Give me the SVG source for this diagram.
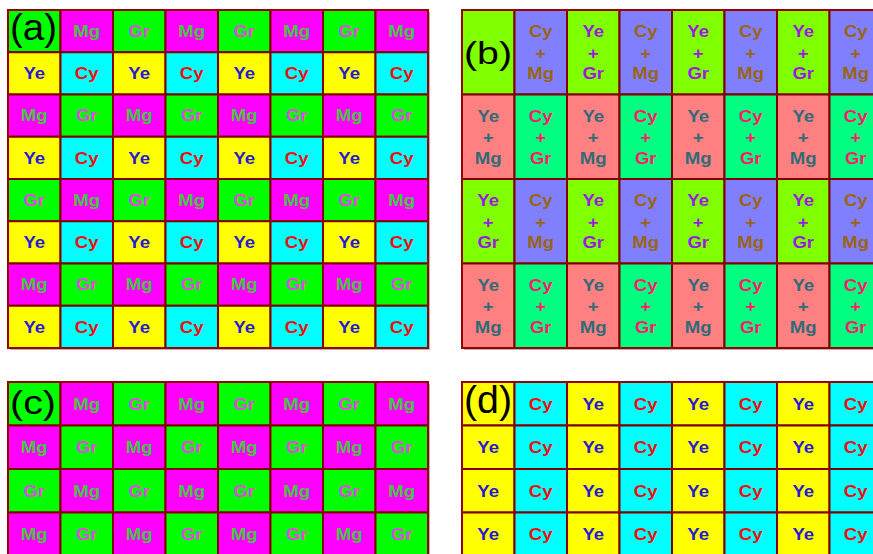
<svg xmlns="http://www.w3.org/2000/svg" width="873" height="554" viewBox="0 0 873 554">
<style>
.k rect{stroke:#800000;stroke-width:2}
.G{fill:#00ff00}.M{fill:#ff00ff}.Y{fill:#ffff00}.C{fill:#00ffff}
.YG{fill:#80ff00}.CM{fill:#8080ff}.YM{fill:#ff8080}.CG{fill:#00ff80}
.sh{fill:#b4b4b4}
.ob{fill:none;stroke:#990000;stroke-width:2}
text{font-family:"Liberation Sans",Arial,Helvetica,sans-serif;font-size:16px;font-weight:bold;text-anchor:middle;transform-box:fill-box;transform-origin:center;transform:scaleX(1.16)}
.tM{fill:#44c844}.tG{fill:#e646e6}.tY{fill:#2a1ad4}.tC{fill:#ee1010}
.tCM{fill:#9a6414}.tYG{fill:#9a1ae0}.tYM{fill:#2f6b78}.tCG{fill:#ff1a6e}
text.lab{font-weight:normal;text-anchor:start;fill:#000;transform:none}
</style>
<rect width="873" height="554" fill="#ffffff"/>

<g id="panel-a">
<rect class="sh" x="10" y="12" width="420" height="338"/>
<g class="k">
<rect class="G" x="8" y="10" width="52.5" height="42.25"/><rect class="M" x="60.5" y="10" width="52.5" height="42.25"/><rect class="G" x="113" y="10" width="52.5" height="42.25"/><rect class="M" x="165.5" y="10" width="52.5" height="42.25"/><rect class="G" x="218" y="10" width="52.5" height="42.25"/><rect class="M" x="270.5" y="10" width="52.5" height="42.25"/><rect class="G" x="323" y="10" width="52.5" height="42.25"/><rect class="M" x="375.5" y="10" width="52.5" height="42.25"/>
<rect class="Y" x="8" y="52.25" width="52.5" height="42.25"/><rect class="C" x="60.5" y="52.25" width="52.5" height="42.25"/><rect class="Y" x="113" y="52.25" width="52.5" height="42.25"/><rect class="C" x="165.5" y="52.25" width="52.5" height="42.25"/><rect class="Y" x="218" y="52.25" width="52.5" height="42.25"/><rect class="C" x="270.5" y="52.25" width="52.5" height="42.25"/><rect class="Y" x="323" y="52.25" width="52.5" height="42.25"/><rect class="C" x="375.5" y="52.25" width="52.5" height="42.25"/>
<rect class="M" x="8" y="94.5" width="52.5" height="42.25"/><rect class="G" x="60.5" y="94.5" width="52.5" height="42.25"/><rect class="M" x="113" y="94.5" width="52.5" height="42.25"/><rect class="G" x="165.5" y="94.5" width="52.5" height="42.25"/><rect class="M" x="218" y="94.5" width="52.5" height="42.25"/><rect class="G" x="270.5" y="94.5" width="52.5" height="42.25"/><rect class="M" x="323" y="94.5" width="52.5" height="42.25"/><rect class="G" x="375.5" y="94.5" width="52.5" height="42.25"/>
<rect class="Y" x="8" y="136.75" width="52.5" height="42.25"/><rect class="C" x="60.5" y="136.75" width="52.5" height="42.25"/><rect class="Y" x="113" y="136.75" width="52.5" height="42.25"/><rect class="C" x="165.5" y="136.75" width="52.5" height="42.25"/><rect class="Y" x="218" y="136.75" width="52.5" height="42.25"/><rect class="C" x="270.5" y="136.75" width="52.5" height="42.25"/><rect class="Y" x="323" y="136.75" width="52.5" height="42.25"/><rect class="C" x="375.5" y="136.75" width="52.5" height="42.25"/>
<rect class="G" x="8" y="179" width="52.5" height="42.25"/><rect class="M" x="60.5" y="179" width="52.5" height="42.25"/><rect class="G" x="113" y="179" width="52.5" height="42.25"/><rect class="M" x="165.5" y="179" width="52.5" height="42.25"/><rect class="G" x="218" y="179" width="52.5" height="42.25"/><rect class="M" x="270.5" y="179" width="52.5" height="42.25"/><rect class="G" x="323" y="179" width="52.5" height="42.25"/><rect class="M" x="375.5" y="179" width="52.5" height="42.25"/>
<rect class="Y" x="8" y="221.25" width="52.5" height="42.25"/><rect class="C" x="60.5" y="221.25" width="52.5" height="42.25"/><rect class="Y" x="113" y="221.25" width="52.5" height="42.25"/><rect class="C" x="165.5" y="221.25" width="52.5" height="42.25"/><rect class="Y" x="218" y="221.25" width="52.5" height="42.25"/><rect class="C" x="270.5" y="221.25" width="52.5" height="42.25"/><rect class="Y" x="323" y="221.25" width="52.5" height="42.25"/><rect class="C" x="375.5" y="221.25" width="52.5" height="42.25"/>
<rect class="M" x="8" y="263.5" width="52.5" height="42.25"/><rect class="G" x="60.5" y="263.5" width="52.5" height="42.25"/><rect class="M" x="113" y="263.5" width="52.5" height="42.25"/><rect class="G" x="165.5" y="263.5" width="52.5" height="42.25"/><rect class="M" x="218" y="263.5" width="52.5" height="42.25"/><rect class="G" x="270.5" y="263.5" width="52.5" height="42.25"/><rect class="M" x="323" y="263.5" width="52.5" height="42.25"/><rect class="G" x="375.5" y="263.5" width="52.5" height="42.25"/>
<rect class="Y" x="8" y="305.75" width="52.5" height="42.25"/><rect class="C" x="60.5" y="305.75" width="52.5" height="42.25"/><rect class="Y" x="113" y="305.75" width="52.5" height="42.25"/><rect class="C" x="165.5" y="305.75" width="52.5" height="42.25"/><rect class="Y" x="218" y="305.75" width="52.5" height="42.25"/><rect class="C" x="270.5" y="305.75" width="52.5" height="42.25"/><rect class="Y" x="323" y="305.75" width="52.5" height="42.25"/><rect class="C" x="375.5" y="305.75" width="52.5" height="42.25"/>
</g>
<rect class="ob" x="8" y="10" width="420" height="338"/>
<text class="lab" x="10" y="40" textLength="47" lengthAdjust="spacingAndGlyphs" style="font-size:37px">(a)</text>
<text class="tM" x="86.75" y="37">Mg</text><text class="tG" x="139.25" y="37">Gr</text><text class="tM" x="191.75" y="37">Mg</text><text class="tG" x="244.25" y="37">Gr</text><text class="tM" x="296.75" y="37">Mg</text><text class="tG" x="349.25" y="37">Gr</text><text class="tM" x="401.75" y="37">Mg</text>
<text class="tY" x="34.25" y="79.5">Ye</text><text class="tC" x="86.75" y="79.5">Cy</text><text class="tY" x="139.25" y="79.5">Ye</text><text class="tC" x="191.75" y="79.5">Cy</text><text class="tY" x="244.25" y="79.5">Ye</text><text class="tC" x="296.75" y="79.5">Cy</text><text class="tY" x="349.25" y="79.5">Ye</text><text class="tC" x="401.75" y="79.5">Cy</text>
<text class="tM" x="34.25" y="121.5">Mg</text><text class="tG" x="86.75" y="121.5">Gr</text><text class="tM" x="139.25" y="121.5">Mg</text><text class="tG" x="191.75" y="121.5">Gr</text><text class="tM" x="244.25" y="121.5">Mg</text><text class="tG" x="296.75" y="121.5">Gr</text><text class="tM" x="349.25" y="121.5">Mg</text><text class="tG" x="401.75" y="121.5">Gr</text>
<text class="tY" x="34.25" y="164">Ye</text><text class="tC" x="86.75" y="164">Cy</text><text class="tY" x="139.25" y="164">Ye</text><text class="tC" x="191.75" y="164">Cy</text><text class="tY" x="244.25" y="164">Ye</text><text class="tC" x="296.75" y="164">Cy</text><text class="tY" x="349.25" y="164">Ye</text><text class="tC" x="401.75" y="164">Cy</text>
<text class="tG" x="34.25" y="206">Gr</text><text class="tM" x="86.75" y="206">Mg</text><text class="tG" x="139.25" y="206">Gr</text><text class="tM" x="191.75" y="206">Mg</text><text class="tG" x="244.25" y="206">Gr</text><text class="tM" x="296.75" y="206">Mg</text><text class="tG" x="349.25" y="206">Gr</text><text class="tM" x="401.75" y="206">Mg</text>
<text class="tY" x="34.25" y="248.5">Ye</text><text class="tC" x="86.75" y="248.5">Cy</text><text class="tY" x="139.25" y="248.5">Ye</text><text class="tC" x="191.75" y="248.5">Cy</text><text class="tY" x="244.25" y="248.5">Ye</text><text class="tC" x="296.75" y="248.5">Cy</text><text class="tY" x="349.25" y="248.5">Ye</text><text class="tC" x="401.75" y="248.5">Cy</text>
<text class="tM" x="34.25" y="290.5">Mg</text><text class="tG" x="86.75" y="290.5">Gr</text><text class="tM" x="139.25" y="290.5">Mg</text><text class="tG" x="191.75" y="290.5">Gr</text><text class="tM" x="244.25" y="290.5">Mg</text><text class="tG" x="296.75" y="290.5">Gr</text><text class="tM" x="349.25" y="290.5">Mg</text><text class="tG" x="401.75" y="290.5">Gr</text>
<text class="tY" x="34.25" y="333">Ye</text><text class="tC" x="86.75" y="333">Cy</text><text class="tY" x="139.25" y="333">Ye</text><text class="tC" x="191.75" y="333">Cy</text><text class="tY" x="244.25" y="333">Ye</text><text class="tC" x="296.75" y="333">Cy</text><text class="tY" x="349.25" y="333">Ye</text><text class="tC" x="401.75" y="333">Cy</text>
</g>

<g id="panel-b">
<rect class="sh" x="464" y="12" width="420" height="338"/>
<g class="k">
<rect class="YG" x="462" y="10" width="52.5" height="84.5"/><rect class="CM" x="514.5" y="10" width="52.5" height="84.5"/><rect class="YG" x="567" y="10" width="52.5" height="84.5"/><rect class="CM" x="619.5" y="10" width="52.5" height="84.5"/><rect class="YG" x="672" y="10" width="52.5" height="84.5"/><rect class="CM" x="724.5" y="10" width="52.5" height="84.5"/><rect class="YG" x="777" y="10" width="52.5" height="84.5"/><rect class="CM" x="829.5" y="10" width="52.5" height="84.5"/>
<rect class="YM" x="462" y="94.5" width="52.5" height="84.5"/><rect class="CG" x="514.5" y="94.5" width="52.5" height="84.5"/><rect class="YM" x="567" y="94.5" width="52.5" height="84.5"/><rect class="CG" x="619.5" y="94.5" width="52.5" height="84.5"/><rect class="YM" x="672" y="94.5" width="52.5" height="84.5"/><rect class="CG" x="724.5" y="94.5" width="52.5" height="84.5"/><rect class="YM" x="777" y="94.5" width="52.5" height="84.5"/><rect class="CG" x="829.5" y="94.5" width="52.5" height="84.5"/>
<rect class="YG" x="462" y="179" width="52.5" height="84.5"/><rect class="CM" x="514.5" y="179" width="52.5" height="84.5"/><rect class="YG" x="567" y="179" width="52.5" height="84.5"/><rect class="CM" x="619.5" y="179" width="52.5" height="84.5"/><rect class="YG" x="672" y="179" width="52.5" height="84.5"/><rect class="CM" x="724.5" y="179" width="52.5" height="84.5"/><rect class="YG" x="777" y="179" width="52.5" height="84.5"/><rect class="CM" x="829.5" y="179" width="52.5" height="84.5"/>
<rect class="YM" x="462" y="263.5" width="52.5" height="84.5"/><rect class="CG" x="514.5" y="263.5" width="52.5" height="84.5"/><rect class="YM" x="567" y="263.5" width="52.5" height="84.5"/><rect class="CG" x="619.5" y="263.5" width="52.5" height="84.5"/><rect class="YM" x="672" y="263.5" width="52.5" height="84.5"/><rect class="CG" x="724.5" y="263.5" width="52.5" height="84.5"/><rect class="YM" x="777" y="263.5" width="52.5" height="84.5"/><rect class="CG" x="829.5" y="263.5" width="52.5" height="84.5"/>
</g>
<rect class="ob" x="462" y="10" width="420" height="338"/>
<text class="lab" x="464" y="64" textLength="48" lengthAdjust="spacingAndGlyphs" style="font-size:31px">(b)</text>
<text class="tCM"><tspan x="540.75" y="37.25">Cy</tspan><tspan x="540.75" y="59">+</tspan><tspan x="540.75" y="79.25">Mg</tspan></text>
<text class="tYG"><tspan x="593.25" y="37.25">Ye</tspan><tspan x="593.25" y="59">+</tspan><tspan x="593.25" y="79.25">Gr</tspan></text>
<text class="tCM"><tspan x="645.75" y="37.25">Cy</tspan><tspan x="645.75" y="59">+</tspan><tspan x="645.75" y="79.25">Mg</tspan></text>
<text class="tYG"><tspan x="698.25" y="37.25">Ye</tspan><tspan x="698.25" y="59">+</tspan><tspan x="698.25" y="79.25">Gr</tspan></text>
<text class="tCM"><tspan x="750.75" y="37.25">Cy</tspan><tspan x="750.75" y="59">+</tspan><tspan x="750.75" y="79.25">Mg</tspan></text>
<text class="tYG"><tspan x="803.25" y="37.25">Ye</tspan><tspan x="803.25" y="59">+</tspan><tspan x="803.25" y="79.25">Gr</tspan></text>
<text class="tCM"><tspan x="855.75" y="37.25">Cy</tspan><tspan x="855.75" y="59">+</tspan><tspan x="855.75" y="79.25">Mg</tspan></text>

<text class="tYM"><tspan x="488.25" y="121.75">Ye</tspan><tspan x="488.25" y="143.5">+</tspan><tspan x="488.25" y="163.75">Mg</tspan></text>
<text class="tCG"><tspan x="540.75" y="121.75">Cy</tspan><tspan x="540.75" y="143.5">+</tspan><tspan x="540.75" y="163.75">Gr</tspan></text>
<text class="tYM"><tspan x="593.25" y="121.75">Ye</tspan><tspan x="593.25" y="143.5">+</tspan><tspan x="593.25" y="163.75">Mg</tspan></text>
<text class="tCG"><tspan x="645.75" y="121.75">Cy</tspan><tspan x="645.75" y="143.5">+</tspan><tspan x="645.75" y="163.75">Gr</tspan></text>
<text class="tYM"><tspan x="698.25" y="121.75">Ye</tspan><tspan x="698.25" y="143.5">+</tspan><tspan x="698.25" y="163.75">Mg</tspan></text>
<text class="tCG"><tspan x="750.75" y="121.75">Cy</tspan><tspan x="750.75" y="143.5">+</tspan><tspan x="750.75" y="163.75">Gr</tspan></text>
<text class="tYM"><tspan x="803.25" y="121.75">Ye</tspan><tspan x="803.25" y="143.5">+</tspan><tspan x="803.25" y="163.75">Mg</tspan></text>
<text class="tCG"><tspan x="855.75" y="121.75">Cy</tspan><tspan x="855.75" y="143.5">+</tspan><tspan x="855.75" y="163.75">Gr</tspan></text>

<text class="tYG"><tspan x="488.25" y="206.25">Ye</tspan><tspan x="488.25" y="228">+</tspan><tspan x="488.25" y="248.25">Gr</tspan></text>
<text class="tCM"><tspan x="540.75" y="206.25">Cy</tspan><tspan x="540.75" y="228">+</tspan><tspan x="540.75" y="248.25">Mg</tspan></text>
<text class="tYG"><tspan x="593.25" y="206.25">Ye</tspan><tspan x="593.25" y="228">+</tspan><tspan x="593.25" y="248.25">Gr</tspan></text>
<text class="tCM"><tspan x="645.75" y="206.25">Cy</tspan><tspan x="645.75" y="228">+</tspan><tspan x="645.75" y="248.25">Mg</tspan></text>
<text class="tYG"><tspan x="698.25" y="206.25">Ye</tspan><tspan x="698.25" y="228">+</tspan><tspan x="698.25" y="248.25">Gr</tspan></text>
<text class="tCM"><tspan x="750.75" y="206.25">Cy</tspan><tspan x="750.75" y="228">+</tspan><tspan x="750.75" y="248.25">Mg</tspan></text>
<text class="tYG"><tspan x="803.25" y="206.25">Ye</tspan><tspan x="803.25" y="228">+</tspan><tspan x="803.25" y="248.25">Gr</tspan></text>
<text class="tCM"><tspan x="855.75" y="206.25">Cy</tspan><tspan x="855.75" y="228">+</tspan><tspan x="855.75" y="248.25">Mg</tspan></text>

<text class="tYM"><tspan x="488.25" y="290.75">Ye</tspan><tspan x="488.25" y="312.5">+</tspan><tspan x="488.25" y="332.75">Mg</tspan></text>
<text class="tCG"><tspan x="540.75" y="290.75">Cy</tspan><tspan x="540.75" y="312.5">+</tspan><tspan x="540.75" y="332.75">Gr</tspan></text>
<text class="tYM"><tspan x="593.25" y="290.75">Ye</tspan><tspan x="593.25" y="312.5">+</tspan><tspan x="593.25" y="332.75">Mg</tspan></text>
<text class="tCG"><tspan x="645.75" y="290.75">Cy</tspan><tspan x="645.75" y="312.5">+</tspan><tspan x="645.75" y="332.75">Gr</tspan></text>
<text class="tYM"><tspan x="698.25" y="290.75">Ye</tspan><tspan x="698.25" y="312.5">+</tspan><tspan x="698.25" y="332.75">Mg</tspan></text>
<text class="tCG"><tspan x="750.75" y="290.75">Cy</tspan><tspan x="750.75" y="312.5">+</tspan><tspan x="750.75" y="332.75">Gr</tspan></text>
<text class="tYM"><tspan x="803.25" y="290.75">Ye</tspan><tspan x="803.25" y="312.5">+</tspan><tspan x="803.25" y="332.75">Mg</tspan></text>
<text class="tCG"><tspan x="855.75" y="290.75">Cy</tspan><tspan x="855.75" y="312.5">+</tspan><tspan x="855.75" y="332.75">Gr</tspan></text>
</g>

<g id="panel-c">
<rect class="sh" x="10" y="384" width="420" height="176"/>
<g class="k">
<rect class="G" x="8" y="382" width="52.5" height="43.5"/><rect class="M" x="60.5" y="382" width="52.5" height="43.5"/><rect class="G" x="113" y="382" width="52.5" height="43.5"/><rect class="M" x="165.5" y="382" width="52.5" height="43.5"/><rect class="G" x="218" y="382" width="52.5" height="43.5"/><rect class="M" x="270.5" y="382" width="52.5" height="43.5"/><rect class="G" x="323" y="382" width="52.5" height="43.5"/><rect class="M" x="375.5" y="382" width="52.5" height="43.5"/>
<rect class="M" x="8" y="425.5" width="52.5" height="43.5"/><rect class="G" x="60.5" y="425.5" width="52.5" height="43.5"/><rect class="M" x="113" y="425.5" width="52.5" height="43.5"/><rect class="G" x="165.5" y="425.5" width="52.5" height="43.5"/><rect class="M" x="218" y="425.5" width="52.5" height="43.5"/><rect class="G" x="270.5" y="425.5" width="52.5" height="43.5"/><rect class="M" x="323" y="425.5" width="52.5" height="43.5"/><rect class="G" x="375.5" y="425.5" width="52.5" height="43.5"/>
<rect class="G" x="8" y="469" width="52.5" height="43.5"/><rect class="M" x="60.5" y="469" width="52.5" height="43.5"/><rect class="G" x="113" y="469" width="52.5" height="43.5"/><rect class="M" x="165.5" y="469" width="52.5" height="43.5"/><rect class="G" x="218" y="469" width="52.5" height="43.5"/><rect class="M" x="270.5" y="469" width="52.5" height="43.5"/><rect class="G" x="323" y="469" width="52.5" height="43.5"/><rect class="M" x="375.5" y="469" width="52.5" height="43.5"/>
<rect class="M" x="8" y="512.5" width="52.5" height="43.5"/><rect class="G" x="60.5" y="512.5" width="52.5" height="43.5"/><rect class="M" x="113" y="512.5" width="52.5" height="43.5"/><rect class="G" x="165.5" y="512.5" width="52.5" height="43.5"/><rect class="M" x="218" y="512.5" width="52.5" height="43.5"/><rect class="G" x="270.5" y="512.5" width="52.5" height="43.5"/><rect class="M" x="323" y="512.5" width="52.5" height="43.5"/><rect class="G" x="375.5" y="512.5" width="52.5" height="43.5"/>
</g>
<rect class="ob" x="8" y="382" width="420" height="176"/>
<text class="lab" x="10" y="414" textLength="46" lengthAdjust="spacingAndGlyphs" style="font-size:33px">(c)</text>
<text class="tM" x="86.75" y="409.75">Mg</text><text class="tG" x="139.25" y="409.75">Gr</text><text class="tM" x="191.75" y="409.75">Mg</text><text class="tG" x="244.25" y="409.75">Gr</text><text class="tM" x="296.75" y="409.75">Mg</text><text class="tG" x="349.25" y="409.75">Gr</text><text class="tM" x="401.75" y="409.75">Mg</text>
<text class="tM" x="34.25" y="453.25">Mg</text><text class="tG" x="86.75" y="453.25">Gr</text><text class="tM" x="139.25" y="453.25">Mg</text><text class="tG" x="191.75" y="453.25">Gr</text><text class="tM" x="244.25" y="453.25">Mg</text><text class="tG" x="296.75" y="453.25">Gr</text><text class="tM" x="349.25" y="453.25">Mg</text><text class="tG" x="401.75" y="453.25">Gr</text>
<text class="tG" x="34.25" y="496.75">Gr</text><text class="tM" x="86.75" y="496.75">Mg</text><text class="tG" x="139.25" y="496.75">Gr</text><text class="tM" x="191.75" y="496.75">Mg</text><text class="tG" x="244.25" y="496.75">Gr</text><text class="tM" x="296.75" y="496.75">Mg</text><text class="tG" x="349.25" y="496.75">Gr</text><text class="tM" x="401.75" y="496.75">Mg</text>
<text class="tM" x="34.25" y="540.25">Mg</text><text class="tG" x="86.75" y="540.25">Gr</text><text class="tM" x="139.25" y="540.25">Mg</text><text class="tG" x="191.75" y="540.25">Gr</text><text class="tM" x="244.25" y="540.25">Mg</text><text class="tG" x="296.75" y="540.25">Gr</text><text class="tM" x="349.25" y="540.25">Mg</text><text class="tG" x="401.75" y="540.25">Gr</text>
</g>

<g id="panel-d">
<rect class="sh" x="464" y="384" width="420" height="176"/>
<g class="k">
<rect class="Y" x="462" y="382" width="52.5" height="43.5"/><rect class="C" x="514.5" y="382" width="52.5" height="43.5"/><rect class="Y" x="567" y="382" width="52.5" height="43.5"/><rect class="C" x="619.5" y="382" width="52.5" height="43.5"/><rect class="Y" x="672" y="382" width="52.5" height="43.5"/><rect class="C" x="724.5" y="382" width="52.5" height="43.5"/><rect class="Y" x="777" y="382" width="52.5" height="43.5"/><rect class="C" x="829.5" y="382" width="52.5" height="43.5"/>
<rect class="Y" x="462" y="425.5" width="52.5" height="43.5"/><rect class="C" x="514.5" y="425.5" width="52.5" height="43.5"/><rect class="Y" x="567" y="425.5" width="52.5" height="43.5"/><rect class="C" x="619.5" y="425.5" width="52.5" height="43.5"/><rect class="Y" x="672" y="425.5" width="52.5" height="43.5"/><rect class="C" x="724.5" y="425.5" width="52.5" height="43.5"/><rect class="Y" x="777" y="425.5" width="52.5" height="43.5"/><rect class="C" x="829.5" y="425.5" width="52.5" height="43.5"/>
<rect class="Y" x="462" y="469" width="52.5" height="43.5"/><rect class="C" x="514.5" y="469" width="52.5" height="43.5"/><rect class="Y" x="567" y="469" width="52.5" height="43.5"/><rect class="C" x="619.5" y="469" width="52.5" height="43.5"/><rect class="Y" x="672" y="469" width="52.5" height="43.5"/><rect class="C" x="724.5" y="469" width="52.5" height="43.5"/><rect class="Y" x="777" y="469" width="52.5" height="43.5"/><rect class="C" x="829.5" y="469" width="52.5" height="43.5"/>
<rect class="Y" x="462" y="512.5" width="52.5" height="43.5"/><rect class="C" x="514.5" y="512.5" width="52.5" height="43.5"/><rect class="Y" x="567" y="512.5" width="52.5" height="43.5"/><rect class="C" x="619.5" y="512.5" width="52.5" height="43.5"/><rect class="Y" x="672" y="512.5" width="52.5" height="43.5"/><rect class="C" x="724.5" y="512.5" width="52.5" height="43.5"/><rect class="Y" x="777" y="512.5" width="52.5" height="43.5"/><rect class="C" x="829.5" y="512.5" width="52.5" height="43.5"/>
</g>
<rect class="ob" x="462" y="382" width="420" height="176"/>
<text class="lab" x="464" y="413" textLength="48" lengthAdjust="spacingAndGlyphs" style="font-size:39px">(d)</text>
<text class="tC" x="540.75" y="409.75">Cy</text><text class="tY" x="593.25" y="409.75">Ye</text><text class="tC" x="645.75" y="409.75">Cy</text><text class="tY" x="698.25" y="409.75">Ye</text><text class="tC" x="750.75" y="409.75">Cy</text><text class="tY" x="803.25" y="409.75">Ye</text><text class="tC" x="855.75" y="409.75">Cy</text>
<text class="tY" x="488.25" y="453.25">Ye</text><text class="tC" x="540.75" y="453.25">Cy</text><text class="tY" x="593.25" y="453.25">Ye</text><text class="tC" x="645.75" y="453.25">Cy</text><text class="tY" x="698.25" y="453.25">Ye</text><text class="tC" x="750.75" y="453.25">Cy</text><text class="tY" x="803.25" y="453.25">Ye</text><text class="tC" x="855.75" y="453.25">Cy</text>
<text class="tY" x="488.25" y="496.75">Ye</text><text class="tC" x="540.75" y="496.75">Cy</text><text class="tY" x="593.25" y="496.75">Ye</text><text class="tC" x="645.75" y="496.75">Cy</text><text class="tY" x="698.25" y="496.75">Ye</text><text class="tC" x="750.75" y="496.75">Cy</text><text class="tY" x="803.25" y="496.75">Ye</text><text class="tC" x="855.75" y="496.75">Cy</text>
<text class="tY" x="488.25" y="540.25">Ye</text><text class="tC" x="540.75" y="540.25">Cy</text><text class="tY" x="593.25" y="540.25">Ye</text><text class="tC" x="645.75" y="540.25">Cy</text><text class="tY" x="698.25" y="540.25">Ye</text><text class="tC" x="750.75" y="540.25">Cy</text><text class="tY" x="803.25" y="540.25">Ye</text><text class="tC" x="855.75" y="540.25">Cy</text>
</g>
</svg>
